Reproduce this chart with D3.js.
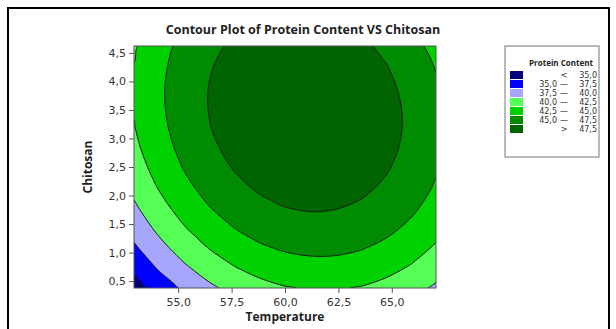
<!DOCTYPE html>
<html>
<head>
<meta charset="utf-8">
<script src="https://cdn.jsdelivr.net/npm/d3@7"></script>
<style>
  body { margin: 0; background: #fff; }
  svg { display: block; }
</style>
</head>
<body>
<svg id="chart" width="616" height="329"></svg>
<script>
// Grid of the fitted protein response: columns follow temperature, rows follow chitosan (low to high)
const temperature = [52.93, 54.11, 55.29, 56.46, 57.64, 58.82, 60.00, 61.18, 62.36, 63.54, 64.71, 65.89, 67.07];
const chitosan = [0.379, 0.732, 1.086, 1.439, 1.793, 2.146, 2.500, 2.854, 3.207, 3.561, 3.914, 4.268, 4.621];
const protein = [
  [33.90, 36.09, 37.96, 39.53, 40.78, 41.73, 42.36, 42.68, 42.69, 42.38, 41.77, 40.84, 39.61],
  [35.61, 37.78, 39.63, 41.17, 42.40, 43.31, 43.92, 44.21, 44.20, 43.87, 43.23, 42.28, 41.01],
  [37.14, 39.28, 41.11, 42.62, 43.82, 44.71, 45.29, 45.56, 45.52, 45.17, 44.50, 43.52, 42.23],
  [38.49, 40.60, 42.40, 43.89, 45.06, 45.93, 46.48, 46.73, 46.66, 46.28, 45.59, 44.58, 43.27],
  [39.64, 41.73, 43.51, 44.97, 46.12, 46.96, 47.49, 47.71, 47.61, 47.21, 46.49, 45.46, 44.12],
  [40.62, 42.68, 44.43, 45.86, 46.99, 47.80, 48.31, 48.50, 48.38, 47.95, 47.20, 46.15, 44.78],
  [41.41, 43.44, 45.16, 46.57, 47.67, 48.46, 48.94, 49.11, 48.96, 48.50, 47.73, 46.66, 45.26],
  [42.01, 44.02, 45.71, 47.10, 48.17, 48.94, 49.39, 49.53, 49.36, 48.87, 48.08, 46.97, 45.56],
  [42.42, 44.41, 46.08, 47.44, 48.49, 49.22, 49.65, 49.76, 49.57, 49.06, 48.24, 47.11, 45.66],
  [42.65, 44.61, 46.26, 47.59, 48.62, 49.33, 49.73, 49.82, 49.59, 49.06, 48.21, 47.06, 45.59],
  [42.70, 44.63, 46.25, 47.56, 48.56, 49.24, 49.62, 49.68, 49.43, 48.87, 48.00, 46.82, 45.32],
  [42.56, 44.47, 46.06, 47.34, 48.31, 48.97, 49.32, 49.36, 49.09, 48.50, 47.60, 46.39, 44.87],
  [42.23, 44.11, 45.68, 46.94, 47.89, 48.52, 48.84, 48.85, 48.55, 47.94, 47.02, 45.79, 44.24]
];

// Contour levels and band colours (first colour is the band below the lowest level)
const levels = [35, 37.5, 40, 42.5, 45, 47.5];
const bandColors = ["#000080", "#0000ff", "#a6a6ff", "#55ff55", "#00d200", "#008c00", "#006400"];
const legendLow = ["", "35,0", "37,5", "40,0", "42,5", "45,0", ""];
const legendSign = ["<", "—", "—", "—", "—", "—", ">"];
const legendHigh = ["35,0", "37,5", "40,0", "42,5", "45,0", "47,5", "47,5"];

const xTicks = [55, 57.5, 60, 62.5, 65];
const yTicks = [0.5, 1.0, 1.5, 2.0, 2.5, 3.0, 3.5, 4.0, 4.5];

const svg = d3.select("#chart");
const plot = { left: 134, right: 436, top: 46, bottom: 288 };
const comma = d => d3.format(".1f")(d).replace(".", ",");

// Outer frame of the graph window
svg.append("rect")
  .attr("x", 8).attr("y", 8).attr("width", 601).attr("height", 340)
  .attr("fill", "none").attr("stroke", "#000").attr("stroke-width", 2);

const x = d3.scaleLinear()
  .domain([temperature[0], temperature[temperature.length - 1]])
  .range([plot.left, plot.right]);
const y = d3.scaleLinear()
  .domain([chitosan[0], chitosan[chitosan.length - 1]])
  .range([plot.bottom, plot.top]);

// Grid coordinates from d3.contours: sample i sits at i + 0.5
const nx = temperature.length, ny = chitosan.length;
const gx = d3.scaleLinear().domain([0.5, nx - 0.5]).range([x(temperature[0]), x(temperature[nx - 1])]);
const gy = d3.scaleLinear().domain([0.5, ny - 0.5]).range([y(chitosan[0]), y(chitosan[ny - 1])]);

svg.append("clipPath").attr("id", "plotClip")
  .append("rect")
  .attr("x", plot.left).attr("y", plot.top)
  .attr("width", plot.right - plot.left).attr("height", plot.bottom - plot.top);

const area = svg.append("g").attr("clip-path", "url(#plotClip)");

area.append("rect")
  .attr("x", plot.left).attr("y", plot.top)
  .attr("width", plot.right - plot.left).attr("height", plot.bottom - plot.top)
  .attr("fill", bandColors[0]);

const contours = d3.contours()
  .size([nx, ny])
  .thresholds(levels)(protein.flat());

const ringLine = d3.line().curve(d3.curveCatmullRomClosed.alpha(0.5));
function contourPath(geom) {
  let d = "";
  geom.coordinates.forEach(polygon => {
    polygon.forEach(ring => {
      const pts = ring.slice(0, ring.length - 1).map(([cx, cy]) => [gx(cx), gy(cy)]);
      d += ringLine(pts);
    });
  });
  return d;
}

area.selectAll("path.band")
  .data(contours)
  .join("path")
  .attr("class", "band")
  .attr("d", contourPath)
  .attr("fill", (c, i) => bandColors[i + 1])
  .attr("fill-rule", "evenodd")
  .attr("stroke", "#1a1a1a")
  .attr("stroke-width", 1);

// Plot border
svg.append("rect")
  .attr("x", plot.left).attr("y", plot.top)
  .attr("width", plot.right - plot.left).attr("height", plot.bottom - plot.top)
  .attr("fill", "none").attr("stroke", "#555").attr("stroke-width", 1);

// Axes
const xAxis = svg.append("g")
  .attr("transform", `translate(0,${plot.bottom})`)
  .call(d3.axisBottom(x).tickValues(xTicks).tickFormat(comma).tickSize(5).tickSizeOuter(0));
const yAxis = svg.append("g")
  .attr("transform", `translate(${plot.left},0)`)
  .call(d3.axisLeft(y).tickValues(yTicks).tickFormat(comma).tickSize(5).tickSizeOuter(0));

[xAxis, yAxis].forEach(g => {
  g.select(".domain").remove();
  g.selectAll(".tick line").attr("stroke", "#555");
  g.selectAll(".tick text")
    .attr("fill", "#333")
    .style("font-family", "'DejaVu Sans', Verdana, sans-serif")
    .style("font-size", "11px");
});
xAxis.selectAll(".tick text").attr("dy", "0.95em");
yAxis.selectAll(".tick text").attr("x", -8);

// Titles
const boldFont = "'Open Sans', 'Noto Sans', sans-serif";
svg.append("text")
  .attr("x", 303).attr("y", 34)
  .attr("text-anchor", "middle")
  .style("font-family", boldFont).style("font-weight", 700).style("font-size", "12.5px")
  .attr("fill", "#222")
  .text("Contour Plot of Protein Content VS Chitosan");

svg.append("text")
  .attr("x", 285).attr("y", 321)
  .attr("text-anchor", "middle")
  .style("font-family", boldFont).style("font-weight", 700).style("font-size", "12px")
  .attr("fill", "#222")
  .text("Temperature");

svg.append("text")
  .attr("transform", "translate(92,167) rotate(-90)")
  .attr("text-anchor", "middle")
  .style("font-family", boldFont).style("font-weight", 700).style("font-size", "12px")
  .attr("fill", "#222")
  .text("Chitosan");

// Legend
const legend = svg.append("g");
legend.append("rect")
  .attr("x", 505).attr("y", 46).attr("width", 94).attr("height", 111)
  .attr("fill", "#fff").attr("stroke", "#777").attr("stroke-width", 1);
legend.append("text")
  .attr("x", 561).attr("y", 66)
  .attr("text-anchor", "middle")
  .style("font-family", boldFont).style("font-weight", 700).style("font-size", "8px")
  .attr("fill", "#222")
  .text("Protein Content");

const rows = legend.selectAll("g.row")
  .data(bandColors.map((c, i) => ({ c, lo: legendLow[i], s: legendSign[i], hi: legendHigh[i] })))
  .join("g")
  .attr("class", "row")
  .attr("transform", (d, i) => `translate(0,${75 + i * 9})`);
rows.append("rect")
  .attr("x", 510).attr("y", -4).attr("width", 13).attr("height", 8)
  .attr("fill", d => d.c);
const lf = "'DejaVu Sans', Verdana, sans-serif";
rows.append("text").attr("x", 557).attr("y", 3).attr("text-anchor", "end")
  .style("font-family", lf).style("font-size", "8px").attr("fill", "#333").text(d => d.lo);
rows.append("text").attr("x", 564).attr("y", 3).attr("text-anchor", "middle")
  .style("font-family", lf).style("font-size", "8px").attr("fill", "#333").text(d => d.s);
rows.append("text").attr("x", 597).attr("y", 3).attr("text-anchor", "end")
  .style("font-family", lf).style("font-size", "8px").attr("fill", "#333").text(d => d.hi);
</script>
</body>
</html>
